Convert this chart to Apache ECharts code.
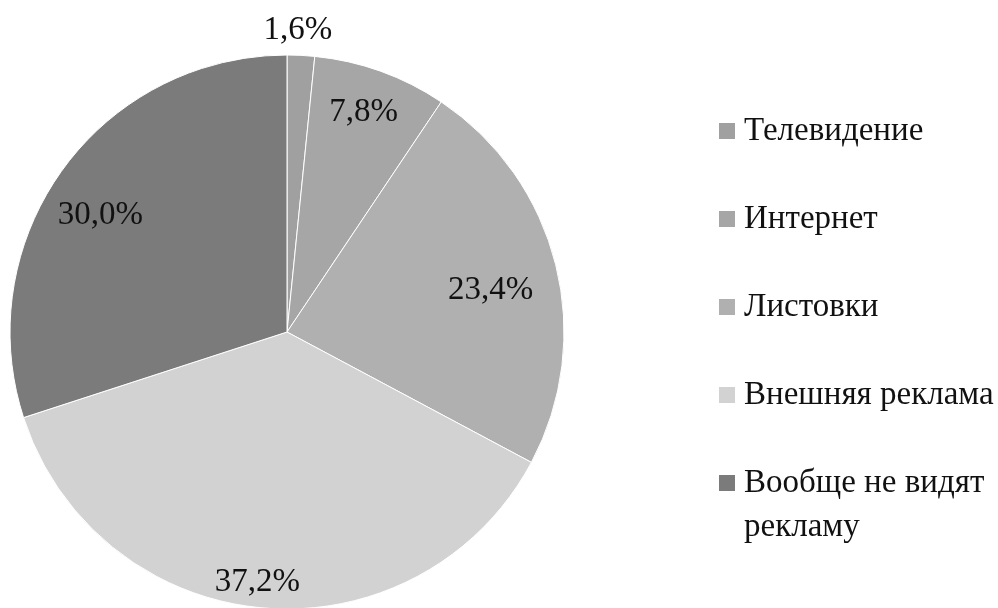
<!DOCTYPE html>
<html>
<head>
<meta charset="utf-8">
<script src="https://cdn.jsdelivr.net/npm/echarts@6/dist/echarts.min.js"></script>
<style>
  html, body { margin: 0; padding: 0; background: #fff; }
  #chart { width: 998px; height: 608px; }
</style>
</head>
<body>
<div id="chart"></div>
<script>
// данные диаграммы
var categories = ['Телевидение', 'Интернет', 'Листовки', 'Внешняя реклама', 'Вообще не видят рекламу'];
var values = [1.6, 7.8, 23.4, 37.2, 30.0];
var colors = ['#a0a0a0', '#a6a6a6', '#b0b0b0', '#d2d2d2', '#7b7b7b'];
// где стоит подпись: доля радиуса и поправка угла (в градусах)
var labelRadius = [1.09, 0.84, 0.75, 0.91, 0.795];
var labelShift = [-0.8, -0.6, 2.5, 1.7, -4];

var cx = 287, cy = 332, r = 277;
var total = 0;
for (var i = 0; i < values.length; i++) total += values[i];

function midAngle(idx) {
    var acc = 0;
    for (var j = 0; j < idx; j++) acc += values[j];
    // от вершины по часовой
    return (acc + values[idx] / 2) / total * 2 * Math.PI + labelShift[idx] * Math.PI / 180;
}

var pieData = [];
for (var k = 0; k < categories.length; k++) {
    pieData.push({ name: categories[k], value: values[k], itemStyle: { color: colors[k] } });
}

var legendText = {
    fontFamily: 'Liberation Serif',
    fontSize: 33,
    lineHeight: 44,
    color: '#111',
    padding: [0, 0, 0, 3]
};

var chart = echarts.init(document.getElementById('chart'));
chart.setOption({
    backgroundColor: '#fff',
    animation: false,
    legend: [{
        orient: 'vertical',
        left: 712,
        top: 104,
        itemWidth: 18,
        itemHeight: 18,
        itemGap: 44,
        icon: 'rect',
        data: categories.slice(0, 4),
        textStyle: legendText
    }, {
        // последний пункт в две строки, значок у первой строки
        orient: 'vertical',
        left: 712,
        top: 412,
        itemWidth: 18,
        itemHeight: 18,
        icon: 'rect',
        data: categories.slice(4),
        formatter: function(name) {
            return '\nВообще не видят\nрекламу';
        },
        textStyle: legendText
    }],
    series: [{
        type: 'pie',
        center: [cx, cy],
        radius: [0, r],
        startAngle: 90,
        clockwise: true,
        data: pieData,
        itemStyle: { borderColor: '#fff', borderWidth: 1 },
        emphasis: { disabled: true },
        labelLine: { show: false },
        label: {
            show: true,
            position: 'inside',
            fontFamily: 'Liberation Serif',
            fontSize: 33,
            color: '#111',
            formatter: function(p) {
                return p.value.toFixed(1).replace('.', ',') + '%';
            }
        },
        labelLayout: function(p) {
            var a = midAngle(p.dataIndex);
            var d = r * labelRadius[p.dataIndex];
            return {
                x: cx + d * Math.sin(a),
                y: cy - d * Math.cos(a),
                align: 'center',
                verticalAlign: 'middle'
            };
        }
    }]
});
</script>
</body>
</html>
